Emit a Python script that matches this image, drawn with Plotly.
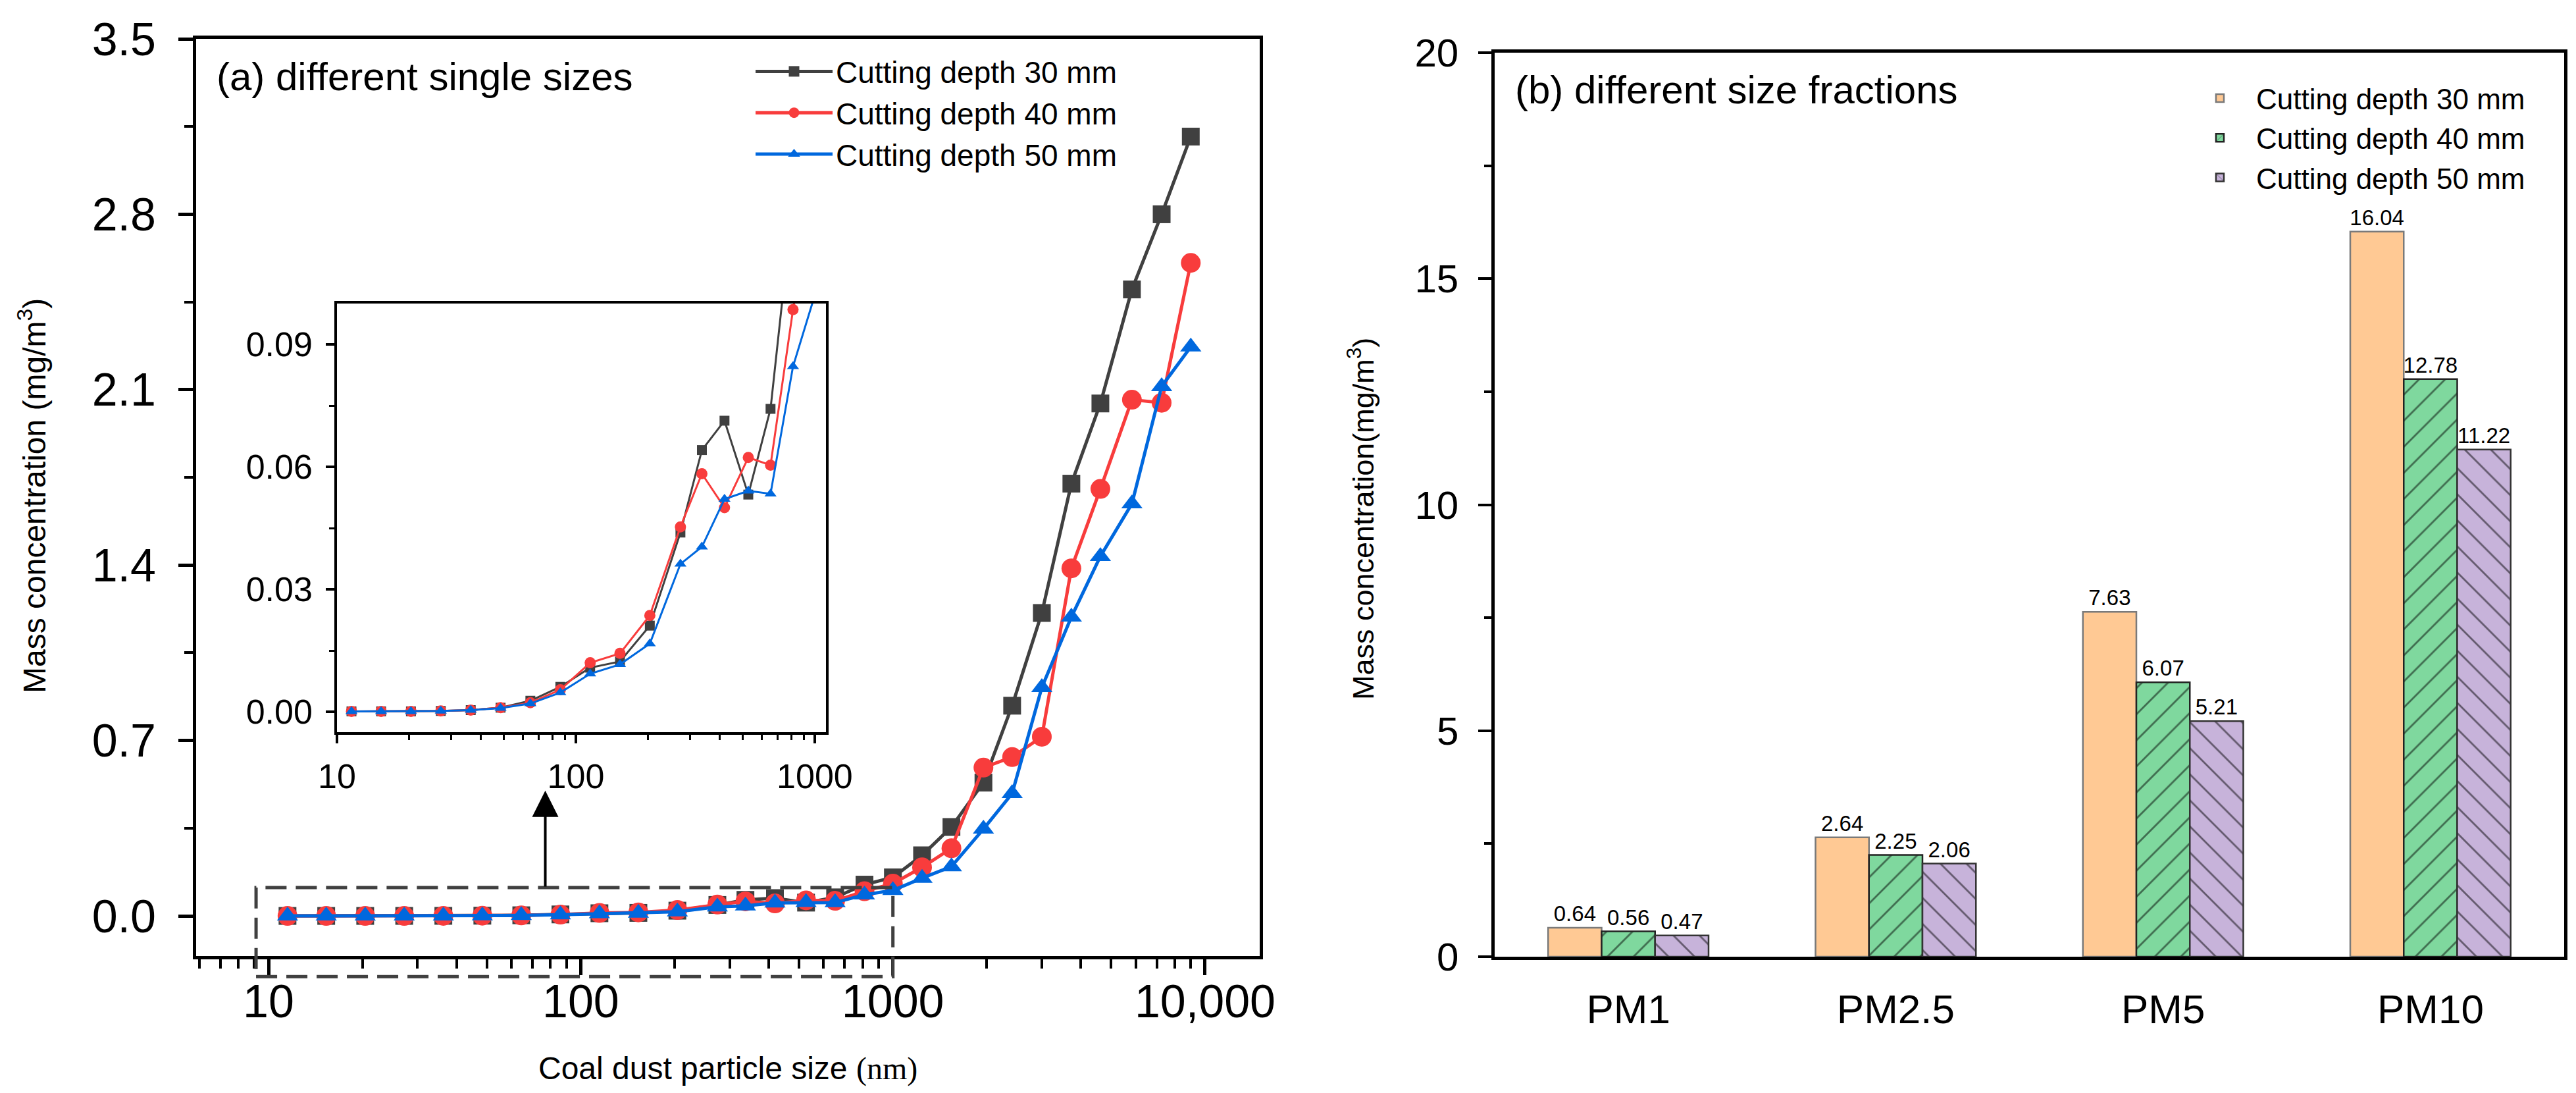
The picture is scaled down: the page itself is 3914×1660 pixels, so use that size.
import math
import plotly.graph_objects as go

W, H = 3914, 1660
FONT = "Liberation Sans, Arial, sans-serif"

# (a) mass concentration per single particle size
sizes = [11.5, 15.3, 20.4, 27.2, 36.3, 48.4, 64.5, 86.1, 114.8, 153, 204,
         274, 337, 419, 527, 653, 811, 1000, 1240, 1540, 1950, 2410, 3000,
         3730, 4620, 5830, 7260, 9000]
depth30 = [0.0001, 0.0001, 0.0001, 0.0002, 0.0004, 0.0010, 0.0027, 0.0061,
           0.0108, 0.0123, 0.0211, 0.0439, 0.0641, 0.0713, 0.0532, 0.0742,
           0.125, 0.154, 0.242, 0.355, 0.532, 0.839, 1.209, 1.725, 2.045,
           2.50, 2.80, 3.11]
depth40 = [0.0001, 0.0001, 0.0001, 0.0002, 0.0004, 0.0010, 0.0022, 0.0054,
           0.0120, 0.0143, 0.0236, 0.0453, 0.0583, 0.0500, 0.0623, 0.0604,
           0.0985, 0.129, 0.194, 0.270, 0.592, 0.634, 0.715, 1.387, 1.704,
           2.060, 2.048, 2.606]
depth50 = [0.0001, 0.0001, 0.0001, 0.0002, 0.0004, 0.0009, 0.0020, 0.0047,
           0.0093, 0.0116, 0.0167, 0.0362, 0.0404, 0.0521, 0.0541, 0.0534,
           0.0846, 0.102, 0.151, 0.197, 0.347, 0.489, 0.912, 1.193, 1.435,
           1.645, 2.113, 2.271]

# (b) mass concentration per size fraction
fractions = ["PM1", "PM2.5", "PM5", "PM10"]
frac30 = [0.64, 2.64, 7.63, 16.04]
frac40 = [0.56, 2.25, 6.07, 12.78]
frac50 = [0.47, 2.06, 5.21, 11.22]

names = ["Cutting depth 30 mm", "Cutting depth 40 mm", "Cutting depth 50 mm"]
line_colors = ["#404040", "#f83c3c", "#0068de"]
symbols = ["square", "circle", "triangle-up"]
main_sizes = [27, 30, 28]
inset_sizes = [15, 17, 16]

# subplot boxes in pixels (left, right, top, bottom)
main_box = (290, 1906, 51, 1444)
inset_box = (504, 1247, 453, 1104)
bar_box = (2263, 3888, 72, 1445)
main_xr = [0.768, 4.175]
main_yr = [-0.16, 3.5]


def xdom(box):
    return [box[0] / W, box[1] / W]


def ydom(box):
    return [(H - box[3]) / H, (H - box[2]) / H]


def main_to_paper(xv, yv):
    d = xdom(main_box)
    e = ydom(main_box)
    px = d[0] + (math.log10(xv) - main_xr[0]) / (main_xr[1] - main_xr[0]) * (d[1] - d[0])
    py = e[0] + (yv - main_yr[0]) / (main_yr[1] - main_yr[0]) * (e[1] - e[0])
    return px, py


fig = go.Figure()

for vals, name, col, sym, ms, ims in zip([depth30, depth40, depth50], names, line_colors,
                                         symbols, main_sizes, inset_sizes):
    fig.add_trace(go.Scatter(x=sizes, y=vals, name=name, mode="lines+markers",
                             line=dict(color=col, width=5),
                             marker=dict(symbol=sym, size=ms, color=col),
                             xaxis="x", yaxis="y", legend="legend"))
    fig.add_trace(go.Scatter(x=sizes, y=vals, name=name, mode="lines+markers",
                             line=dict(color=col, width=3),
                             marker=dict(symbol=sym, size=ims, color=col),
                             xaxis="x2", yaxis="y2", showlegend=False))

bar_fill = ["#ffc994", "#7fd89e", "#c7b3da"]
bar_edge = ["#7a7a7a", "#222222", "#333333"]
patterns = ["", "/", "\\"]
for vals, name, fc, ec, pat in zip([frac30, frac40, frac50], names, bar_fill, bar_edge, patterns):
    fig.add_trace(go.Bar(x=fractions, y=vals, name=name,
                         marker=dict(color=fc, line=dict(color=ec, width=2.5),
                                     pattern=dict(shape=pat, fgcolor="black", size=28,
                                                  solidity=0.1)),
                         text=vals, texttemplate="%{y:.2f}", textposition="outside",
                         textfont=dict(size=33, color="black", family=FONT),
                         cliponaxis=False, constraintext="none",
                         xaxis="x3", yaxis="y3", legend="legend2"))

minor_main = [m * 10 ** e for e in range(0, 4) for m in range(2, 10) if m * 10 ** e > 5.9]
minor_inset = [m * 10 ** e for e in range(1, 3) for m in range(2, 10)]

axis_common = dict(showline=True, linecolor="black", mirror=True, showgrid=False,
                   zeroline=False, ticks="outside", tickcolor="black", automargin=False)

fig.update_layout(
    width=W, height=H, margin=dict(l=0, r=0, t=0, b=0, pad=0, autoexpand=False),
    paper_bgcolor="white", plot_bgcolor="white",
    font=dict(family=FONT, color="black"),
    barmode="group", bargap=0.4, bargroupgap=0,
    xaxis=dict(axis_common, type="log", domain=xdom(main_box), range=main_xr,
               linewidth=5, tickwidth=5, ticklen=24, ticklabelstandoff=-20,
               tickmode="array", tickvals=[10, 100, 1000, 10000],
               ticktext=["10", "100", "1000", "10,000"],
               tickfont=dict(size=70),
               minor=dict(tickmode="array", tickvals=minor_main, ticks="outside",
                          ticklen=14, tickwidth=4, tickcolor="black")),
    yaxis=dict(axis_common, domain=ydom(main_box), range=main_yr,
               linewidth=5, tickwidth=5, ticklen=22, ticklabelstandoff=20,
               tick0=0, dtick=0.7, tickformat=".1f", tickfont=dict(size=70),
               minor=dict(tick0=0, dtick=0.35, ticks="outside", ticklen=13,
                          tickwidth=4, tickcolor="black")),
    xaxis2=dict(axis_common, type="log", domain=xdom(inset_box), range=[1, 3.047],
                anchor="y2", linewidth=3.5, tickwidth=3.5, ticklen=13,
                ticklabelstandoff=6, tickmode="array", tickvals=[10, 100, 1000],
                tickfont=dict(size=52),
                minor=dict(tickmode="array", tickvals=minor_inset, ticks="outside",
                           ticklen=8, tickwidth=3, tickcolor="black")),
    yaxis2=dict(axis_common, domain=ydom(inset_box), range=[-0.005, 0.1],
                anchor="x2", linewidth=3.5, tickwidth=3.5, ticklen=13,
                ticklabelstandoff=10, tick0=0, dtick=0.03, tickformat=".2f",
                tickfont=dict(size=52),
                minor=dict(tick0=0, dtick=0.015, ticks="outside", ticklen=8,
                           tickwidth=3, tickcolor="black")),
    xaxis3=dict(axis_common, type="category", domain=xdom(bar_box), range=[-0.5, 3.5],
                anchor="y3", linewidth=4.5, ticks="", ticklabelstandoff=22,
                tickfont=dict(size=62)),
    yaxis3=dict(axis_common, domain=ydom(bar_box), range=[0, 20], anchor="x3",
                linewidth=4.5, tickwidth=4, ticklen=20, ticklabelstandoff=18,
                tick0=0, dtick=5, tickfont=dict(size=60),
                minor=dict(tick0=0, dtick=2.5, ticks="outside", ticklen=11,
                           tickwidth=3.5, tickcolor="black")),
    legend=dict(x=1135 / W, y=(H - 64) / H, xanchor="left", yanchor="top",
                font=dict(size=46, color="black"), bgcolor="rgba(0,0,0,0)",
                itemwidth=117, tracegroupgap=0, traceorder="normal"),
    legend2=dict(x=3310 / W, y=(H - 106) / H, xanchor="left", yanchor="top",
                 font=dict(size=44, color="black"), bgcolor="rgba(0,0,0,0)",
                 itemwidth=100, tracegroupgap=0, traceorder="normal"),
)

# dashed box marking the zoomed region and arrow to the inset
bx0, by0 = main_to_paper(9.12, -0.242)
bx1, by1 = main_to_paper(1000, 0.113)
fig.add_shape(type="rect", xref="paper", yref="paper", x0=bx0, y0=by0, x1=bx1, y1=by1,
              line=dict(color="#404040", width=5, dash="32px,14px"))
ax_, ay_ = main_to_paper(77, 0.50)
fig.add_annotation(xref="paper", yref="paper", x=ax_, y=ay_, text="", showarrow=True,
                   ax=0, ay=(ay_ - by1) * H, arrowhead=2, arrowsize=2,
                   arrowwidth=4, arrowcolor="black")

fig.add_annotation(xref="paper", yref="paper", x=319 / W, y=(H - 109) / H,
                   xanchor="left", yanchor="middle", showarrow=False,
                   text="(a) different single sizes", font=dict(size=60))
fig.add_annotation(xref="paper", yref="paper", x=2292 / W, y=(H - 128) / H,
                   xanchor="left", yanchor="middle", showarrow=False,
                   text="(b) different size fractions", font=dict(size=60))

# axis titles
fig.add_annotation(xref="paper", yref="paper", x=41 / W, y=(H - 745) / H,
                   xanchor="center", yanchor="middle",
                   textangle=-90, showarrow=False, font=dict(size=48),
                   text="Mass concentration (mg/m<sup>3</sup>)")
fig.add_annotation(xref="paper", yref="paper", x=1098 / W, y=(H - 1615) / H,
                   xanchor="center", yanchor="middle",
                   showarrow=False, font=dict(size=48),
                   text="Coal dust particle size <span style='font-family:Liberation Serif'>(nm)</span>")
fig.add_annotation(xref="paper", yref="paper", x=2060 / W, y=(H - 780) / H,
                   xanchor="center", yanchor="middle",
                   textangle=-90, showarrow=False, font=dict(size=45),
                   text="Mass concentration(mg/m<sup>3</sup>)")

fig.write_html("out.html")
